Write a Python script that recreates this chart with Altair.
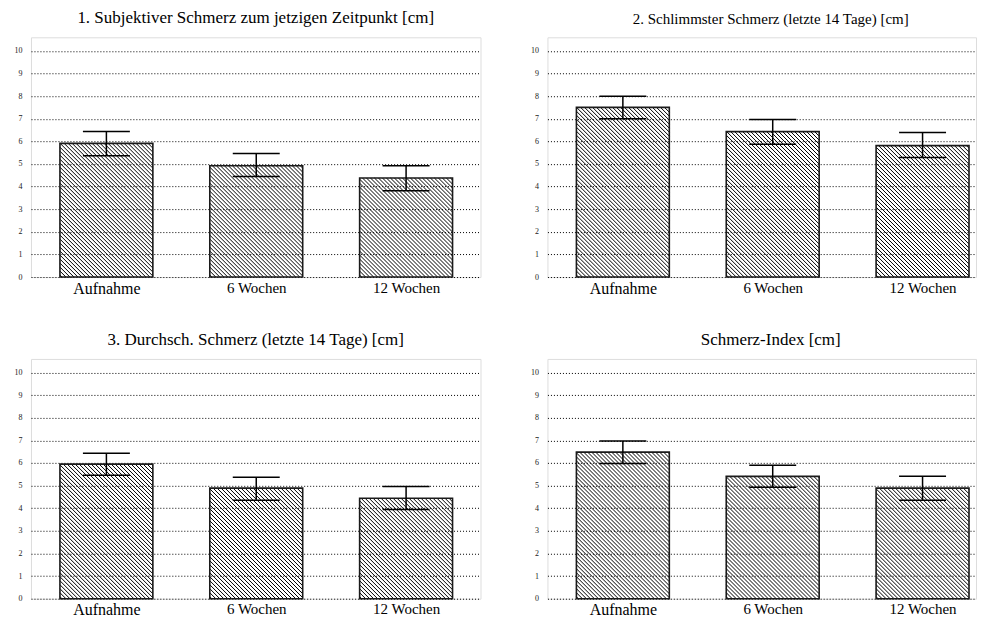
import altair as alt
import pandas as pd

categories = ["Aufnahme", "6 Wochen", "12 Wochen"]
titles = [
    "1. Subjektiver Schmerz zum jetzigen Zeitpunkt [cm]",
    "2. Schlimmster Schmerz (letzte 14 Tage) [cm]",
    "3. Durchsch. Schmerz (letzte 14 Tage) [cm]",
    "Schmerz-Index [cm]",
]
means = [
    [5.91, 4.92, 4.38],
    [7.50, 6.43, 5.81],
    [5.95, 4.89, 4.44],
    [6.48, 5.41, 4.89],
]
lower = [
    [5.36, 4.44, 3.81],
    [7.00, 5.87, 5.28],
    [5.46, 4.35, 3.94],
    [5.98, 4.93, 4.35],
]
upper = [
    [6.43, 5.46, 4.92],
    [7.99, 6.97, 6.39],
    [6.43, 5.37, 4.96],
    [6.97, 5.90, 5.41],
]
y_ticks = list(range(0, 11))

# layout / style constants
Y_MAX = 10.6
PLOT_H = 240
PX_PER_X = 150.0          # pixels per category step
BAR_PX = 93.0             # bar width in pixels
CAP_PX = 47.0             # error-bar cap width in pixels
FIRST_CENTER_PX = 75.5    # centre of first bar from the plot's left edge
HATCH_PX = 4.0            # horizontal period of the hatching
FONT = "Liberation Serif, Times New Roman, serif"
PX_PER_Y = PLOT_H / Y_MAX
BAR_HALF = BAR_PX / 2 / PX_PER_X
CAP_HALF = CAP_PX / 2 / PX_PER_X


def panel(i, width, title_size, dx):
    df = pd.DataFrame({
        "cat": categories,
        "idx": list(range(len(categories))),
        "mean": means[i],
        "lo": lower[i],
        "hi": upper[i],
    })
    x0 = -FIRST_CENTER_PX / PX_PER_X
    xscale = alt.Scale(domain=[x0, x0 + width / PX_PER_X], nice=False, zero=False, padding=0)
    label_expr = "[" + ",".join("'%s'" % c for c in categories) + "][datum.value]"
    xaxis = alt.Axis(
        title=None, ticks=False, domain=False, grid=False, values=list(range(len(categories))),
        labelExpr=label_expr, labelAngle=0, labelFont=FONT,
        labelFontSize={"condition": {"test": "datum.value == 0", "value": 16}, "value": 15},
        labelColor="black", labelPadding=3, labelOverlap=False,
    )
    yscale = alt.Scale(domain=[0, Y_MAX], nice=False, zero=True)
    yaxis = alt.Axis(
        title=None, values=y_ticks, ticks=False, domain=False, grid=True,
        gridDash=[1, 2], gridColor="black", gridWidth=1, gridOpacity=1,
        labelFont=FONT, labelFontSize=8, labelColor="#222", labelPadding=9,
    )
    base = alt.Chart(df).transform_calculate(
        xl="datum.idx - %f" % BAR_HALF,
        xr="datum.idx + %f" % BAR_HALF,
        cl="datum.idx - %f" % CAP_HALF,
        cr="datum.idx + %f" % CAP_HALF,
    )

    # 45-degree "\" hatching inside each bar (u: px from bar's left, z: px above baseline)
    W = BAR_PX
    hatch = (
        base.transform_calculate(H="datum.mean * %f" % PX_PER_Y)
        .transform_calculate(s="sequence(%f, %f + datum.H, %f)" % (HATCH_PX / 2, W, HATCH_PX))
        .transform_flatten(["s"])
        .transform_calculate(
            hx0="datum.xl + max(0, datum.s - datum.H) / %f" % PX_PER_X,
            hy0="min(datum.H, datum.s) / %f" % PX_PER_Y,
            hx1="datum.xl + min(%f, datum.s) / %f" % (W, PX_PER_X),
            hy1="max(0, datum.s - %f) / %f" % (W, PX_PER_Y),
        )
        .mark_rule(color="black", strokeWidth=1.0)
        .encode(
            x=alt.X("hx0:Q", scale=xscale, axis=xaxis),
            x2="hx1:Q",
            y=alt.Y("hy0:Q", scale=yscale, axis=yaxis),
            y2="hy1:Q",
        )
    )
    bars = base.mark_bar(fill="white", fillOpacity=0, stroke="#1a1a1a", strokeWidth=1.6).encode(
        x=alt.X("xl:Q", scale=xscale, axis=xaxis),
        x2="xr:Q",
        y=alt.Y("mean:Q", scale=yscale, axis=yaxis),
        y2=alt.datum(0),
    )
    err = base.mark_rule(color="black", strokeWidth=1.5).encode(
        x=alt.X("idx:Q", scale=xscale, axis=xaxis),
        y=alt.Y("lo:Q", scale=yscale, axis=yaxis),
        y2="hi:Q",
    )
    cap_hi = base.mark_rule(color="black", strokeWidth=1.5).encode(
        x=alt.X("cl:Q", scale=xscale, axis=xaxis),
        x2="cr:Q",
        y=alt.Y("hi:Q", scale=yscale, axis=yaxis),
    )
    cap_lo = base.mark_rule(color="black", strokeWidth=1.5).encode(
        x=alt.X("cl:Q", scale=xscale, axis=xaxis),
        x2="cr:Q",
        y=alt.Y("lo:Q", scale=yscale, axis=yaxis),
    )
    return alt.layer(hatch, bars, err, cap_hi, cap_lo).properties(
        width=width,
        height=PLOT_H,
        title=alt.TitleParams(
            titles[i], font=FONT, fontSize=title_size, fontWeight="normal", color="black",
            anchor="middle", offset=10, dx=dx,
        ),
    )


p1 = panel(0, 450, 17, 0)
p2 = panel(1, 429, 15, 9)
p3 = panel(2, 450, 17, 0)
p4 = panel(3, 429, 17, 9)

chart = (
    alt.concat(p1, p2, p3, p4, columns=2, spacing={"row": 82, "column": 67}, bounds="flush")
    .properties(padding={"left": 5, "top": 0, "right": 0, "bottom": 0})
    .configure_view(stroke="#555555", strokeWidth=2)
    .configure(background="white")
)

chart.save("out.html", embed_options={"renderer": "svg", "actions": False})
